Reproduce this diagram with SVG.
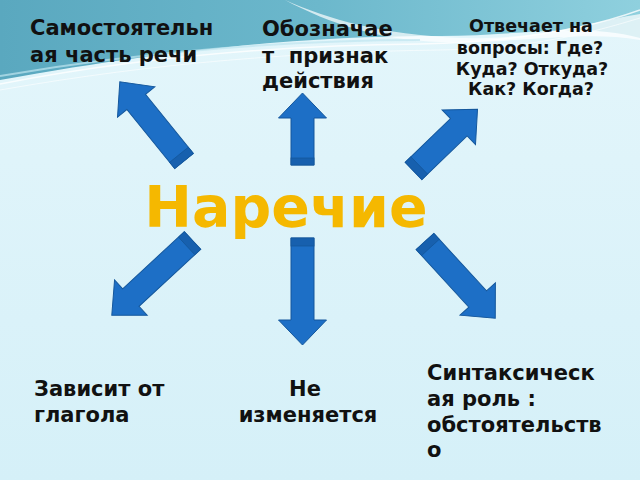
<svg xmlns="http://www.w3.org/2000/svg" width="640" height="480" viewBox="0 0 640 480">
<defs>
<linearGradient id="bg" x1="0" y1="0" x2="0" y2="1">
<stop offset="0" stop-color="#e4f6fb"/>
<stop offset="1" stop-color="#d5f0f8"/>
</linearGradient>
<linearGradient id="teal" x1="0" y1="0" x2="1" y2="0">
<stop offset="0" stop-color="#5aa8bf"/>
<stop offset="0.5" stop-color="#6cb8cc"/>
<stop offset="1" stop-color="#8fd0de"/>
</linearGradient>
<style>
.arr{fill:#1d6fc6;stroke:#14579c;stroke-width:1}
.band{fill:#1760ae;stroke:#14579c;stroke-width:0.8}
.lbl{font-family:"DejaVu Sans","Liberation Sans",sans-serif;font-weight:bold;fill:#111;font-size:21px;white-space:pre}
.sm{font-size:17.5px}
.title{font-family:"DejaVu Sans","Liberation Sans",sans-serif;font-weight:bold;fill:#f5b800;font-size:57px}
</style>
</defs>
<rect width="640" height="480" fill="url(#bg)"/>
<path d="M0,0 H640 V38 C580,22 520,36 440,36 C330,36 200,44 0,80 Z" fill="url(#teal)"/>
<path d="M285,0 C330,20 380,34 460,38 C540,40 590,22 640,14 V40 C580,30 520,44 440,42 C380,40 330,24 285,0 Z" fill="#ffffff" opacity="0.7"/>
<path d="M0,84 C150,55 300,45 420,44 C520,42 590,28 640,10" fill="none" stroke="#ffffff" stroke-width="1.5" opacity="0.8"/>
<path d="M0,90 C160,62 300,52 440,50 C540,48 600,30 640,18" fill="none" stroke="#ffffff" stroke-width="1" opacity="0.6"/>
<path d="M0,76 C150,50 300,40 420,40" fill="none" stroke="#bfe6ef" stroke-width="2" opacity="0.7"/>

<g id="connectors">
<g id="arrow-up-left" transform="translate(184,161) rotate(-39)">
<polygon class="arr" points="-12,0 -12,-76 -24,-76 0,-102 24,-76 12,-76 12,0"/>
<rect class="band" x="-12" y="-8" width="24" height="8"/>
</g>
<g id="arrow-up" transform="translate(302.5,165)">
<polygon class="arr" points="-11.5,0 -11.5,-47 -24,-47 0,-72 24,-47 11.5,-47 11.5,0"/>
<rect class="band" x="-11.5" y="-7" width="23" height="7"/>
</g>
<g id="arrow-up-right" transform="translate(413.5,171) rotate(46)">
<polygon class="arr" points="-12,0 -12,-63 -24,-63 0,-89 24,-63 12,-63 12,0"/>
<rect class="band" x="-12" y="-8" width="24" height="8"/>
</g>
<g id="arrow-down-left" transform="translate(192.5,240.5) rotate(-132.8)">
<polygon class="arr" points="-12,0 -12,-84 -24,-84 0,-110 24,-84 12,-84 12,0"/>
<rect class="band" x="-12" y="-8" width="24" height="8"/>
</g>
<g id="arrow-down" transform="translate(302.5,238) rotate(180)">
<polygon class="arr" points="-11.5,0 -11.5,-82 -24,-82 0,-107 24,-82 11.5,-82 11.5,0"/>
<rect class="band" x="-11.5" y="-8" width="23" height="8"/>
</g>
<g id="arrow-down-right" transform="translate(425,241.5) rotate(137.5)">
<polygon class="arr" points="-12,0 -12,-78 -24,-78 0,-104 24,-78 12,-78 12,0"/>
<rect class="band" x="-12" y="-8" width="24" height="8"/>
</g>
</g>

<g id="center">
<text class="title" x="286" y="227" text-anchor="middle">Наречие</text>
</g>
<g id="node-samost">
<text class="lbl" x="30" y="35">Самостоятельн</text>
<text class="lbl" x="30" y="62">ая часть речи</text>
</g>
<g id="node-oboznach">
<text class="lbl" x="262" y="36">Обозначае</text>
<text class="lbl" x="262" y="63">т  признак</text>
<text class="lbl" x="262" y="88">действия</text>
</g>
<g id="node-otvechaet">
<text class="lbl sm" x="531" y="32" text-anchor="middle">Отвечает на</text>
<text class="lbl sm" x="530" y="54" text-anchor="middle">вопросы: Где?</text>
<text class="lbl sm" x="532" y="75" text-anchor="middle">Куда? Откуда?</text>
<text class="lbl sm" x="531" y="95" text-anchor="middle">Как? Когда?</text>
</g>
<g id="node-zavisit">
<text class="lbl" x="34" y="396">Зависит от</text>
<text class="lbl" x="34" y="422">глагола</text>
</g>
<g id="node-ne">
<text class="lbl" x="305" y="396" text-anchor="middle">Не</text>
<text class="lbl" x="308" y="422" text-anchor="middle">изменяется</text>
</g>
<g id="node-sintaks">
<text class="lbl" x="427" y="380">Синтаксическ</text>
<text class="lbl" x="427" y="406">ая роль :</text>
<text class="lbl" x="427" y="432">обстоятельств</text>
<text class="lbl" x="427" y="457">о</text>
</g>
</svg>
